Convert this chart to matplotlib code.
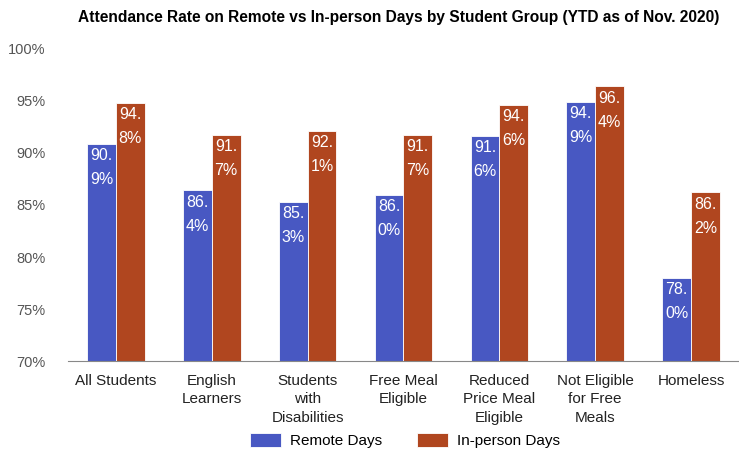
import numpy as np
import matplotlib.pyplot as plt

plt.rcParams['font.family'] = ['Liberation Sans', 'DejaVu Sans']

groups = ['All Students', 'English\nLearners', 'Students\nwith\nDisabilities', 'Free Meal\nEligible',
          'Reduced\nPrice Meal\nEligible', 'Not Eligible\nfor Free\nMeals', 'Homeless']
remote = [90.9, 86.4, 85.3, 86.0, 91.6, 94.9, 78.0]
inperson = [94.8, 91.7, 92.1, 91.7, 94.6, 96.4, 86.2]
yticks = [70, 75, 80, 85, 90, 95, 100]

blue = '#4858c2'
orange = '#b0461f'

fig = plt.figure(figsize=(7.39, 4.53), dpi=100)
ax = fig.add_axes([0.092, 0.203, 0.908, 0.689])

x = np.arange(len(groups))
w = 0.3
b1 = ax.bar(x - w/2, [v - 70 for v in remote], w, bottom=70, color=blue, label='Remote Days',
            edgecolor='white', linewidth=0.6)
b2 = ax.bar(x + w/2, [v - 70 for v in inperson], w, bottom=70, color=orange, label='In-person Days',
            edgecolor='white', linewidth=0.6)

# labels split like the original: "90.\n9%"
for bars, vals in [(b1, remote), (b2, inperson)]:
    for r, v in zip(bars, vals):
        s = f'{v:.1f}'
        txt = s.split('.')[0] + '.\n' + s.split('.')[1] + '%'
        ax.annotate(txt, (r.get_x() + r.get_width()/2, v), xytext=(0, -3),
                    textcoords='offset points', ha='center', va='top',
                    color='white', fontsize=11.5, linespacing=1.75)

ax.set_xlim(-0.5, 6.5)
ax.set_ylim(70, 100)
ax.set_yticks(yticks)
ax.set_yticklabels([f'{t}%' for t in yticks])
ax.set_xticks(x)
ax.set_xticklabels(groups, fontsize=11, color='#222222', linespacing=1.45)
ax.tick_params(axis='y', labelsize=10.5, labelcolor='#555555', length=0, pad=16)
ax.tick_params(axis='x', length=0, pad=9)
for s in ['top', 'right', 'left']:
    ax.spines[s].set_visible(False)
ax.spines['bottom'].set_color('#888888')

fig.suptitle('Attendance Rate on Remote vs In-person Days by Student Group (YTD as of Nov. 2020)',
             fontsize=11.2, fontweight='bold', x=0.539, y=0.977)
fig.legend(loc='lower center', bbox_to_anchor=(0.548, -0.02), ncol=2, frameon=False,
           fontsize=11, handlelength=2.0, handleheight=1.0, handletextpad=0.6, columnspacing=2.3)

fig.savefig('out.png', dpi=100)
